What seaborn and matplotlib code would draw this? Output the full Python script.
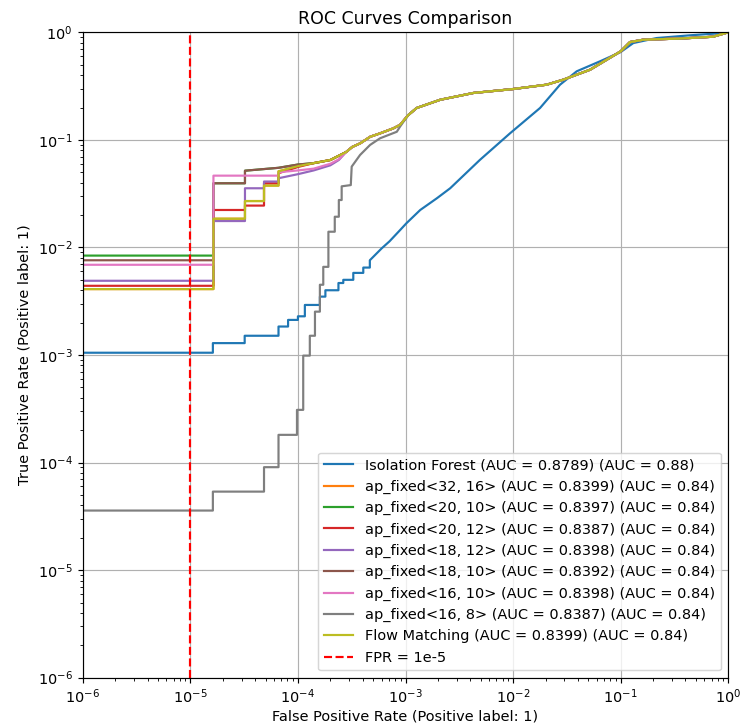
import matplotlib
matplotlib.use("Agg")
import matplotlib.pyplot as plt
import seaborn as sns

# legend labels, in drawing order
legend_labels = [
    "Isolation Forest (AUC = 0.8789) (AUC = 0.88)",
    "ap_fixed<32, 16> (AUC = 0.8399) (AUC = 0.84)",
    "ap_fixed<20, 10> (AUC = 0.8397) (AUC = 0.84)",
    "ap_fixed<20, 12> (AUC = 0.8387) (AUC = 0.84)",
    "ap_fixed<18, 12> (AUC = 0.8398) (AUC = 0.84)",
    "ap_fixed<18, 10> (AUC = 0.8392) (AUC = 0.84)",
    "ap_fixed<16, 10> (AUC = 0.8398) (AUC = 0.84)",
    "ap_fixed<16, 8> (AUC = 0.8387) (AUC = 0.84)",
    "Flow Matching (AUC = 0.8399) (AUC = 0.84)",
]
fpr_threshold = 1e-5

# isolation forest roc
fpr_iforest = [0, 1.62e-5, 1.62e-5, 3.2e-5, 3.2e-5, 6.6e-5, 6.6e-5, 8.1e-5, 8.1e-5, 1.0e-4, 1.0e-4,
               1.16e-4, 1.16e-4, 1.6e-4, 1.6e-4, 1.8e-4, 1.8e-4, 2.38e-4, 2.38e-4, 2.64e-4, 2.64e-4,
               3.27e-4, 3.27e-4, 4.05e-4, 4.05e-4, 4.66e-4, 4.66e-4, 6.0e-4, 7.1e-4, 8.9e-4, 1.02e-3,
               1.37e-3, 1.96e-3, 2.6e-3, 4.9e-3, 9.35e-3, 0.0178, 0.0273, 0.039, 0.064, 0.1, 0.131,
               0.216, 0.44, 0.9, 1.0]
tpr_iforest = [1.05e-3, 1.05e-3, 1.29e-3, 1.29e-3, 1.51e-3, 1.51e-3, 1.84e-3, 1.84e-3, 2.12e-3, 2.12e-3,
               2.29e-3, 2.29e-3, 2.92e-3, 2.92e-3, 3.49e-3, 3.49e-3, 4.0e-3, 4.0e-3, 4.67e-3, 4.67e-3,
               5.0e-3, 5.0e-3, 5.8e-3, 5.8e-3, 6.5e-3, 6.5e-3, 7.6e-3, 9.8e-3, 0.0114, 0.0145, 0.0168,
               0.0223, 0.0287, 0.0355, 0.065, 0.115, 0.198, 0.326, 0.434, 0.537, 0.656, 0.795,
               0.885, 0.938, 0.985, 1.0]

# common upper part shared by all the quantised models
fpr_tail = [1.4e-4, 2.0e-4, 2.8e-4, 3.2e-4, 3.8e-4, 4.7e-4, 5.8e-4, 7.7e-4, 8.9e-4, 1.06e-3, 1.27e-3,
            2.1e-3, 4.27e-3, 0.01, 0.0205, 0.0293, 0.0519, 0.1, 0.122, 0.162, 0.356, 0.72, 1.0]
tpr_tail = [0.0608, 0.065, 0.077, 0.086, 0.093, 0.107, 0.115, 0.128, 0.138, 0.17, 0.198,
            0.236, 0.273, 0.297, 0.326, 0.363, 0.449, 0.666, 0.812, 0.854, 0.875, 0.91, 1.0]

# low-fpr staircase of each model
fpr_32_16 = [0, 1.64e-5, 1.64e-5, 3.22e-5, 3.22e-5, 4.84e-5, 4.84e-5, 6.6e-5, 6.6e-5, 1.0e-4]
tpr_32_16 = [4.1e-3, 4.1e-3, 0.0185, 0.0185, 0.027, 0.027, 0.0376, 0.0376, 0.051, 0.057]
fpr_20_10 = [0, 1.64e-5, 1.64e-5, 3.22e-5, 3.22e-5, 6.6e-5, 1.0e-4]
tpr_20_10 = [8.4e-3, 8.4e-3, 0.0395, 0.0395, 0.0517, 0.055, 0.059]
fpr_20_12 = [0, 1.64e-5, 1.64e-5, 3.22e-5, 3.22e-5, 4.84e-5, 4.84e-5, 6.6e-5, 6.6e-5, 1.0e-4]
tpr_20_12 = [4.4e-3, 4.4e-3, 0.0223, 0.0223, 0.0245, 0.0245, 0.0395, 0.0395, 0.049, 0.056]
fpr_18_12 = [0, 1.64e-5, 1.64e-5, 3.22e-5, 3.22e-5, 4.84e-5, 4.84e-5, 6.6e-5, 6.6e-5, 1.0e-4, 1.4e-4,
             2.0e-4, 2.4e-4]
tpr_18_12 = [4.9e-3, 4.9e-3, 0.0176, 0.0176, 0.0355, 0.0355, 0.041, 0.041, 0.044, 0.048, 0.052,
             0.058, 0.065]
fpr_18_10 = [0, 1.64e-5, 1.64e-5, 3.22e-5, 3.22e-5, 6.6e-5, 1.0e-4]
tpr_18_10 = [7.6e-3, 7.6e-3, 0.0395, 0.0395, 0.0517, 0.055, 0.059]
fpr_16_10 = [0, 1.64e-5, 1.64e-5, 6.6e-5, 6.6e-5, 1.0e-4, 1.4e-4, 2.0e-4, 2.4e-4]
tpr_16_10 = [6.9e-3, 6.9e-3, 0.0465, 0.0465, 0.05, 0.052, 0.054, 0.06, 0.066]
fpr_16_8 = [0, 1.62e-5, 1.62e-5, 4.84e-5, 4.84e-5, 6.6e-5, 6.6e-5, 9.8e-5, 9.8e-5, 1.12e-4, 1.12e-4,
            1.29e-4, 1.29e-4, 1.44e-4, 1.44e-4, 1.6e-4, 1.6e-4, 1.72e-4, 1.72e-4, 1.92e-4, 1.92e-4,
            2.2e-4, 2.2e-4, 2.4e-4, 2.4e-4, 2.55e-4, 2.55e-4, 3.1e-4, 3.16e-4, 3.78e-4, 4.68e-4,
            5.8e-4, 8.3e-4, 8.9e-4, 1.06e-3]
tpr_16_8 = [3.58e-5, 3.58e-5, 5.37e-5, 5.37e-5, 9.06e-5, 9.06e-5, 1.81e-4, 1.81e-4, 3.09e-4, 3.09e-4,
            9.87e-4, 9.87e-4, 1.51e-3, 1.51e-3, 2.53e-3, 2.53e-3, 4.5e-3, 4.5e-3, 6.6e-3, 6.6e-3,
            0.014, 0.014, 0.0193, 0.0193, 0.0276, 0.0276, 0.037, 0.038, 0.0564, 0.0724, 0.0897,
            0.1035, 0.119, 0.133, 0.17]
fpr_flow = fpr_32_16
tpr_flow = tpr_32_16


def with_tail(fpr, tpr):
    # glue the shared upper curve on after the last staircase point
    keep = [i for i, f in enumerate(fpr_tail) if f > fpr[-1]]
    return fpr + [fpr_tail[i] for i in keep], tpr + [tpr_tail[i] for i in keep]


curves = [(fpr_iforest, tpr_iforest)] + [
    with_tail(f, t) for f, t in [
        (fpr_32_16, tpr_32_16), (fpr_20_10, tpr_20_10), (fpr_20_12, tpr_20_12),
        (fpr_18_12, tpr_18_12), (fpr_18_10, tpr_18_10), (fpr_16_10, tpr_16_10),
        (fpr_16_8, tpr_16_8), (fpr_flow, tpr_flow)]
]
colors = sns.color_palette("tab10", 9)

# slightly higher dpi so the text comes out at the reference size
dpi = 104.5
fig, ax = plt.subplots(figsize=(740 / dpi, 728 / dpi), dpi=dpi)
fig.subplots_adjust(left=0.1118, right=0.9842, bottom=0.0691, top=0.9556)

for (fpr, tpr), label, color in zip(curves, legend_labels, colors):
    sns.lineplot(x=fpr, y=tpr, ax=ax, label=label, color=color,
                 estimator=None, sort=False, linewidth=1.5)

ax.axvline(fpr_threshold, color="red", linestyle="--", label="FPR = 1e-5")

ax.set_xscale("log")
ax.set_yscale("log")
ax.set_xlim(1e-6, 1)
ax.set_ylim(1e-6, 1)
ax.grid(True)
ax.set_title("ROC Curves Comparison")
ax.set_xlabel("False Positive Rate (Positive label: 1)", labelpad=2)
ax.set_ylabel("True Positive Rate (Positive label: 1)")
ax.legend(loc="lower right")

plt.savefig("out.png", dpi=dpi)
plt.close()
